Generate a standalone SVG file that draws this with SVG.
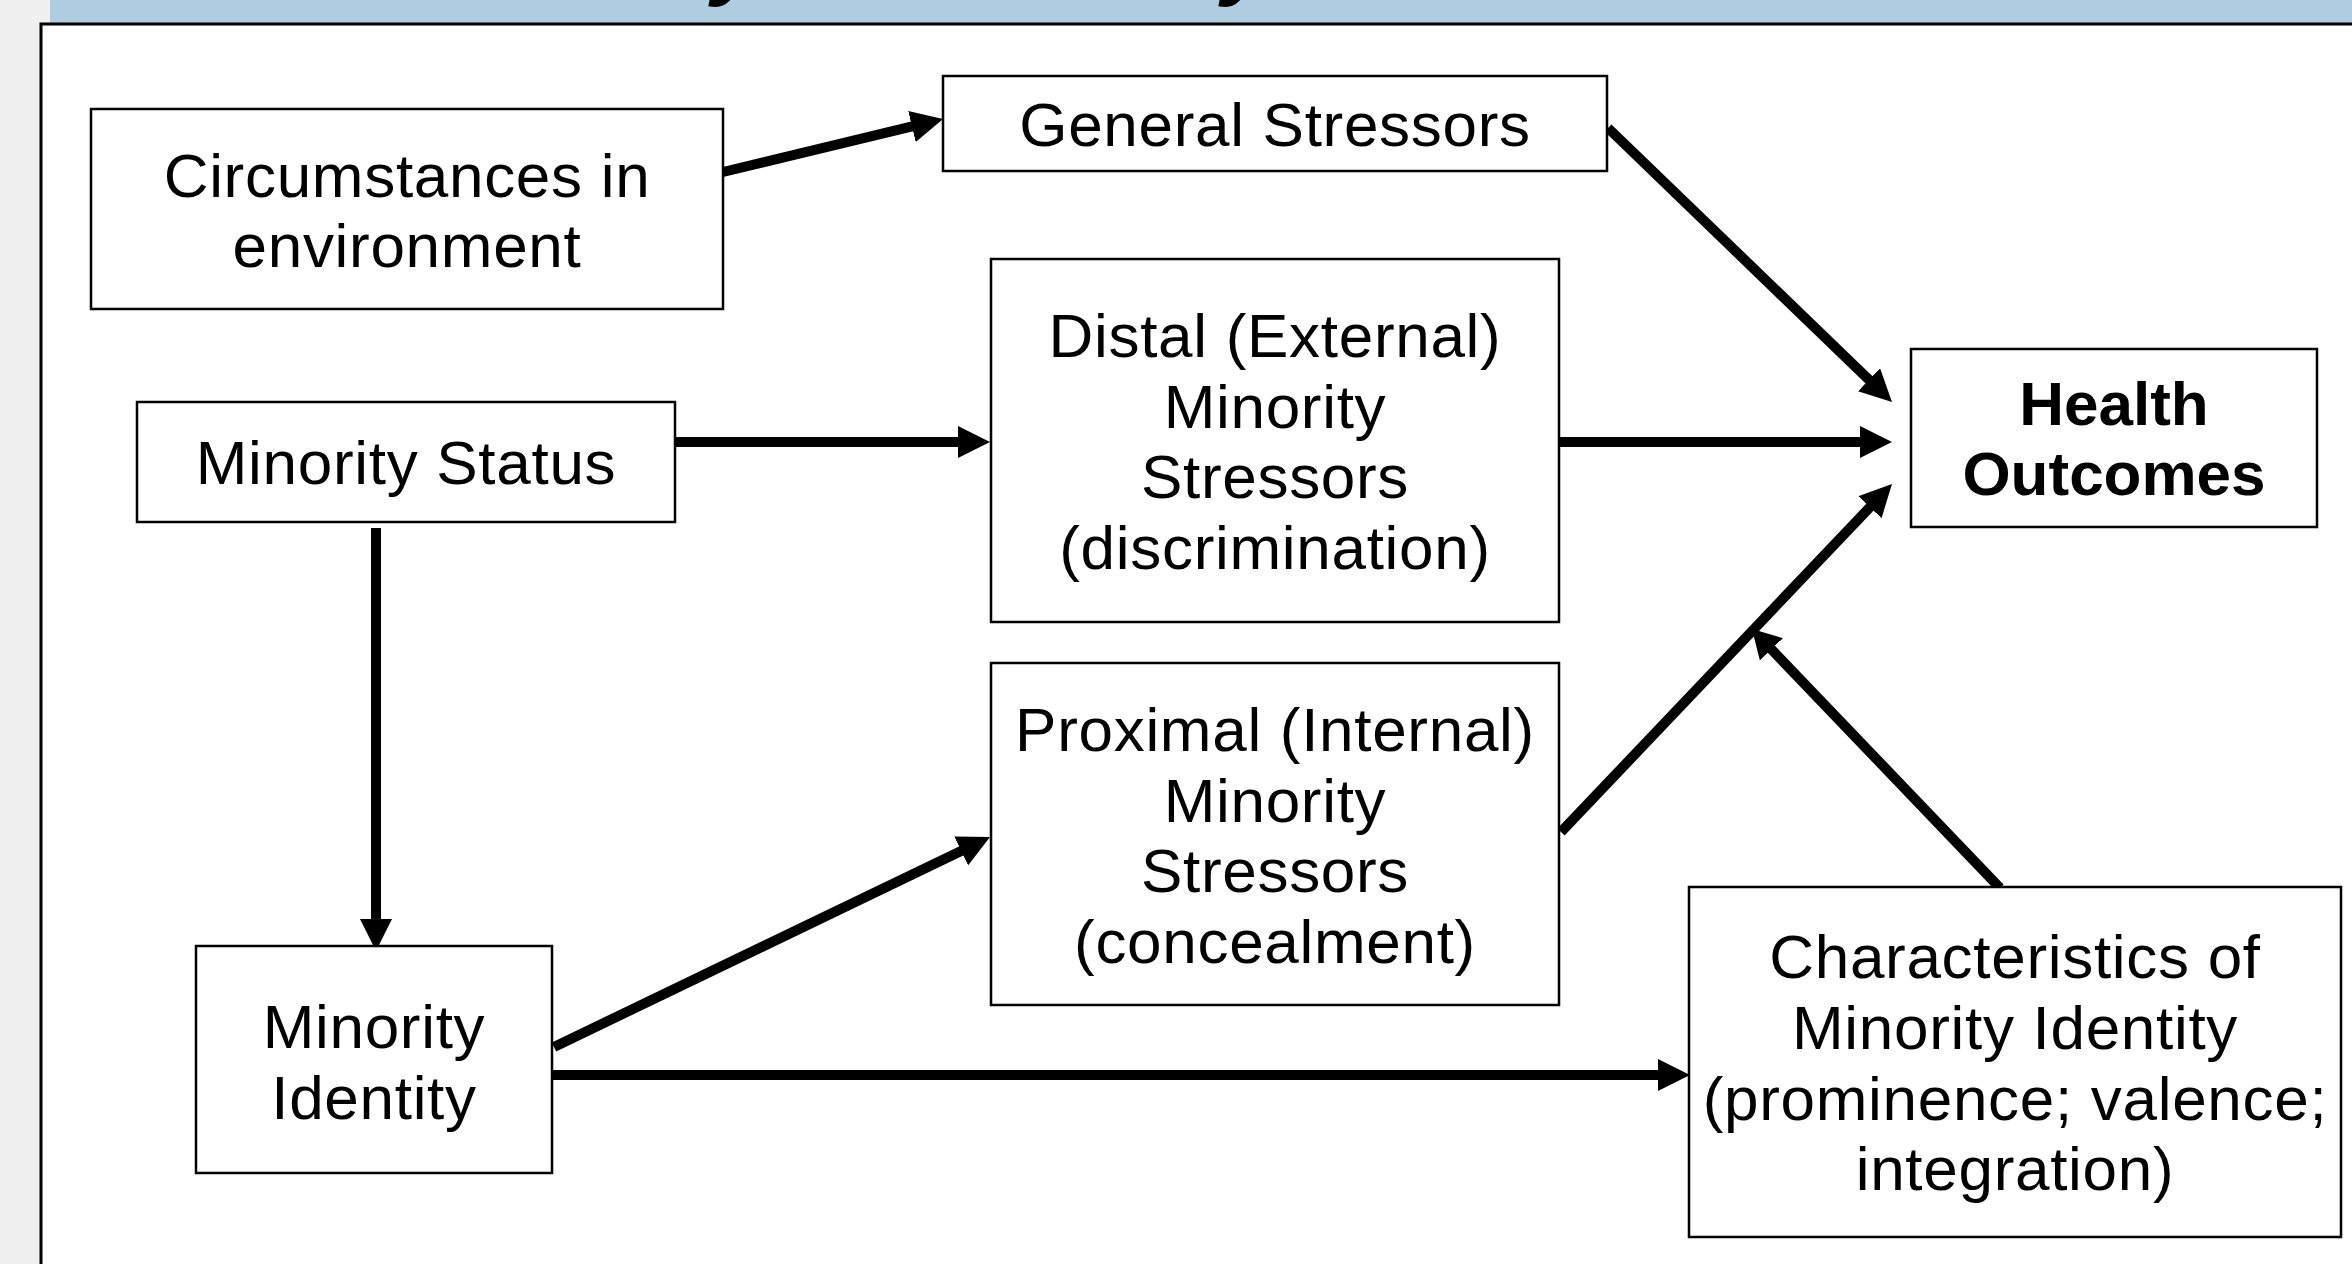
<svg xmlns="http://www.w3.org/2000/svg" width="2352" height="1264" viewBox="0 0 2352 1264">
<defs>
<style>
.box{fill:#ffffff;stroke:#000000;stroke-width:2.5}
.t{font-family:"Liberation Sans",Arial,sans-serif;font-size:62px;letter-spacing:0.7px;fill:#000000;text-anchor:middle}
.b{font-weight:bold;letter-spacing:0}
.c{stroke:#000000;stroke-width:10;fill:none}
.title{font-family:"Liberation Sans",Arial,sans-serif;font-size:88px;font-weight:bold;font-style:italic;fill:#000000}
</style>
<marker id="ah" markerUnits="userSpaceOnUse" markerWidth="32" markerHeight="32" refX="12" refY="16" orient="auto">
<path d="M0,0 L32,16 L0,32 z" fill="#000000"/>
</marker>
<marker id="ah2" markerUnits="userSpaceOnUse" markerWidth="28" markerHeight="32" refX="12" refY="16" orient="auto">
<path d="M0,0 L28,16 L0,32 z" fill="#000000"/>
</marker>
</defs>
<rect x="0" y="0" width="2352" height="1264" fill="#f0f0f0"/>
<rect x="50" y="0" width="2302" height="25" fill="#afcde0"/>
<text class="title" x="712" y="-11">y</text>
<text class="title" x="1222" y="-11">y</text>
<rect x="41" y="24" width="2330" height="1260" fill="#ffffff" stroke="#000000" stroke-width="3"/>

<g id="connectors">
<line class="c" x1="723" y1="172" x2="923.6" y2="123.7" marker-end="url(#ah)"/>
<line class="c" x1="1608" y1="128" x2="1877.6" y2="388.1" marker-end="url(#ah)"/>
<line class="c" x1="675" y1="442" x2="970" y2="442" marker-end="url(#ah)"/>
<line class="c" x1="1560" y1="442" x2="1872" y2="442" marker-end="url(#ah)"/>
<line class="c" x1="376" y1="528" x2="376" y2="931" marker-end="url(#ah)"/>
<line class="c" x1="554" y1="1047" x2="972" y2="845.7" marker-end="url(#ah)"/>
<line class="c" x1="552" y1="1075" x2="1670" y2="1075" marker-end="url(#ah)"/>
<line class="c" x1="1561" y1="832" x2="1878.2" y2="498.5" marker-end="url(#ah)"/>
<line class="c" x1="2000" y1="888" x2="1763.1" y2="640.6" marker-end="url(#ah2)"/>
</g>

<g id="circumstances">
<rect class="box" x="91" y="109" width="632" height="200"/>
<text class="t" x="407" y="197">Circumstances in</text>
<text class="t" x="407" y="267">environment</text>
</g>
<g id="general-stressors">
<rect class="box" x="943" y="76" width="664" height="95"/>
<text class="t" x="1275" y="146">General Stressors</text>
</g>
<g id="minority-status">
<rect class="box" x="137" y="402" width="538" height="120"/>
<text class="t" x="406" y="484">Minority Status</text>
</g>
<g id="distal">
<rect class="box" x="991" y="259" width="568" height="363"/>
<text class="t" x="1275" y="357">Distal (External)</text>
<text class="t" x="1275" y="427.5">Minority</text>
<text class="t" x="1275" y="498">Stressors</text>
<text class="t" x="1275" y="568.5">(discrimination)</text>
</g>
<g id="proximal">
<rect class="box" x="991" y="663" width="568" height="342"/>
<text class="t" x="1275" y="751">Proximal (Internal)</text>
<text class="t" x="1275" y="821.5">Minority</text>
<text class="t" x="1275" y="892">Stressors</text>
<text class="t" x="1275" y="962.5">(concealment)</text>
</g>
<g id="minority-identity">
<rect class="box" x="196" y="946" width="356" height="227"/>
<text class="t" x="374" y="1048">Minority</text>
<text class="t" x="374" y="1119">Identity</text>
</g>
<g id="characteristics">
<rect class="box" x="1689" y="887" width="652" height="350"/>
<text class="t" x="2015" y="978">Characteristics of</text>
<text class="t" x="2015" y="1049">Minority Identity</text>
<text class="t" x="2015" y="1120">(prominence; valence;</text>
<text class="t" x="2015" y="1190">integration)</text>
</g>
<g id="health-outcomes">
<rect class="box" x="1911" y="349" width="406" height="178"/>
<text class="t b" x="2114" y="425">Health</text>
<text class="t b" x="2114" y="495">Outcomes</text>
</g>
</svg>
